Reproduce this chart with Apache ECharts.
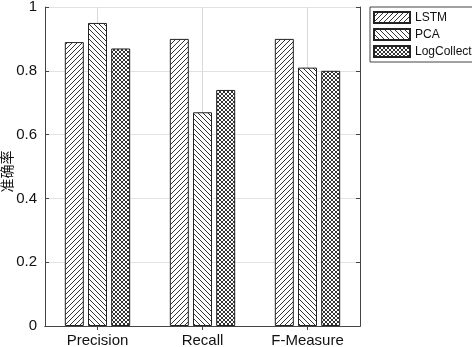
<!DOCTYPE html>
<html>
<head>
<meta charset="utf-8">
<script src="https://cdn.jsdelivr.net/npm/echarts@6/dist/echarts.min.js"></script>
<style>
  html, body { margin: 0; padding: 0; background: #fff; }
  #chart { width: 472px; height: 347px; }
</style>
</head>
<body>
<div id="chart"></div>
<script>
// data
var categories = ['Precision', 'Recall', 'F-Measure'];
var seriesNames = ['LSTM', 'PCA', 'LogCollect'];
var lstm = [0.89, 0.90, 0.90];
var pca = [0.95, 0.67, 0.81];
var logCollect = [0.87, 0.74, 0.80];

// hatch fills like the matlab bar patterns
function makePattern(kind) {
    var size = kind === 'cross' ? 4 : 5;
    var c = document.createElement('canvas');
    c.width = size;
    c.height = size;
    var ctx = c.getContext('2d');
    ctx.fillStyle = '#fff';
    ctx.fillRect(0, 0, size, size);
    ctx.strokeStyle = '#333';
    ctx.lineWidth = 1;
    function line(x1, y1, x2, y2) {
        ctx.beginPath();
        ctx.moveTo(x1, y1);
        ctx.lineTo(x2, y2);
        ctx.stroke();
    }
    if (kind === 'fwd' || kind === 'cross') {
        line(-1, size + 1, size + 1, -1);
        line(-1, 1, 1, -1);
        line(size - 1, size + 1, size + 1, size - 1);
    }
    if (kind === 'back' || kind === 'cross') {
        line(-1, -1, size + 1, size + 1);
        line(size - 1, -1, size + 1, 1);
        line(-1, size - 1, 1, size + 1);
    }
    return { image: c, repeat: 'repeat' };
}

var fills = [makePattern('fwd'), makePattern('back'), makePattern('cross')];
var values = [lstm, pca, logCollect];

var chart = echarts.init(document.getElementById('chart'));

var series = seriesNames.map(function (name, i) {
    return {
        name: name,
        type: 'bar',
        data: values[i],
        barWidth: 19,
        barGap: '22%',
        z: 4,
        itemStyle: {
            color: fills[i],
            borderColor: '#222',
            borderWidth: 1
        }
    };
});
// vertical grid lines at the category centres, behind the bars
series[1].markLine = {
    silent: true,
    symbol: ['none', 'none'],
    z: 2,
    label: { show: false },
    lineStyle: { color: '#d8d8d8', type: 'solid', width: 1 },
    data: categories.map(function (c, i) { return { xAxis: i }; })
};

var tickStyle = { show: true, inside: true, length: 4, alignWithLabel: true, lineStyle: { color: '#444' } };

var option = {
    animation: false,
    textStyle: { fontFamily: 'Liberation Sans, Arial, sans-serif' },
    grid: {
        left: 45, right: 112, top: 7, bottom: 21,
        outerBoundsMode: 'none'
    },
    legend: {
        data: seriesNames,
        orient: 'vertical',
        left: 370,
        top: 7,
        icon: 'rect',
        itemWidth: 36,
        itemHeight: 11,
        itemGap: 4,
        padding: [4, 1, 4, 3],
        borderColor: '#444',
        borderWidth: 1,
        textStyle: { fontSize: 12, color: '#111' }
    },
    xAxis: [{
        type: 'category',
        data: categories,
        axisLine: { show: true, lineStyle: { color: '#444' } },
        axisTick: tickStyle,
        axisLabel: { fontSize: 15, color: '#111', margin: 7 },
        splitLine: { show: false }
    }, {
        type: 'category',
        data: categories,
        position: 'top',
        axisLine: { show: true, lineStyle: { color: '#444' } },
        axisTick: tickStyle,
        axisLabel: { show: false },
        splitLine: { show: false }
    }],
    yAxis: [{
        type: 'value',
        min: 0,
        max: 1,
        interval: 0.2,
        name: '准确率',
        nameLocation: 'middle',
        nameRotate: 90,
        nameGap: 31,
        nameMoveOverlap: false,
        nameTextStyle: { fontFamily: 'Noto Sans CJK SC', fontSize: 14, color: '#111', padding: [0, 10, 0, 0] },
        axisLine: { show: true, lineStyle: { color: '#444' } },
        axisTick: { show: true, inside: true, length: 4, lineStyle: { color: '#444' } },
        axisLabel: { fontSize: 15, color: '#111', margin: 8 },
        splitLine: { show: true, lineStyle: { color: '#e2e2e2' } }
    }, {
        type: 'value',
        min: 0,
        max: 1,
        interval: 0.2,
        position: 'right',
        axisLine: { show: true, lineStyle: { color: '#444' } },
        axisTick: { show: true, inside: true, length: 4, lineStyle: { color: '#444' } },
        axisLabel: { show: false },
        splitLine: { show: false }
    }],
    series: series
};

chart.setOption(option);
</script>
</body>
</html>
